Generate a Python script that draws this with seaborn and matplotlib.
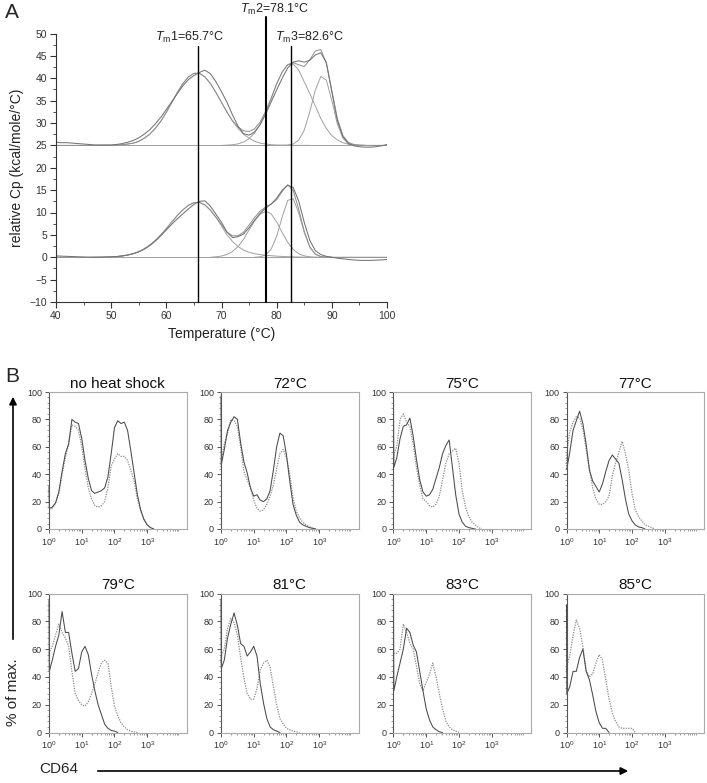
import numpy as np
import pandas as pd
import matplotlib
matplotlib.use("Agg")
import matplotlib.pyplot as plt
import seaborn as sns
from matplotlib.ticker import MultipleLocator, LogLocator, FixedLocator, NullFormatter, FixedFormatter
from matplotlib.patches import FancyArrowPatch

sns.set_style("ticks")
plt.rcParams['font.family'] = ['Liberation Sans', 'DejaVu Sans']
plt.rcParams['mathtext.fontset'] = 'custom'
plt.rcParams['mathtext.rm'] = 'Liberation Sans'
plt.rcParams['mathtext.it'] = 'Liberation Sans:italic'
plt.rcParams['mathtext.bf'] = 'Liberation Sans:bold'

# ---------------- Panel A data (DSC) ----------------
T_GRID = list(range(40, 101))
EXP_UPPER = [25.7, 25.6, 25.6, 25.5, 25.4, 25.3, 25.2, 25.1, 25.1, 25.1, 25.1, 25.2, 25.4, 25.7, 26.1,
             26.7, 27.5, 28.5, 29.8, 31.3, 33.0, 34.8, 36.6, 38.3, 39.7, 40.6, 41.3, 41.8, 41.0, 39.2,
             37.0, 34.6, 31.8, 29.3, 27.6, 27.3, 28.0, 29.6, 32.0, 34.7, 37.4, 40.0, 42.3, 43.6, 43.9,
             43.6, 44.0, 45.2, 45.7, 43.5, 37.0, 30.5, 27.0, 25.4, 24.9, 24.7, 24.6, 24.6, 24.7, 24.9, 25.2]
FIT_UPPER = [25.0, 25.0, 25.0, 25.0, 25.0, 25.0, 25.0, 25.0, 25.0, 25.0, 25.0, 25.05, 25.15, 25.3, 25.5,
             25.9, 26.6, 27.5, 28.8, 30.4, 32.4, 34.6, 36.8, 38.8, 40.3, 41.1, 41.1, 40.3, 38.8, 36.8,
             34.6, 32.45, 30.5, 29.1, 28.25, 28.1, 28.7, 30.2, 32.6, 35.55, 38.8, 41.4, 43.05, 43.5, 43.0,
             42.6, 44.1, 46.1, 46.4, 43.4, 37.2, 31.0, 27.2, 25.65, 25.2, 25.05, 25.0, 25.0, 25.0, 25.0, 25.0]
EXP_LOWER = [0.3, 0.25, 0.2, 0.15, 0.1, 0.05, 0.0, 0.0, 0.0, 0.05, 0.1, 0.15, 0.3, 0.5, 0.8,
             1.2, 1.8, 2.6, 3.6, 4.8, 6.1, 7.4, 8.6, 9.7, 10.8, 11.8, 12.5, 12.6, 11.4, 9.6,
             7.8, 5.6, 4.4, 4.6, 5.2, 6.6, 8.3, 9.8, 11.0, 11.9, 13.2, 15.0, 16.1, 15.6, 12.5,
             7.8, 3.8, 1.5, 0.6, 0.2, 0.0, -0.2, -0.35, -0.5, -0.6, -0.7, -0.7, -0.7, -0.65, -0.6, -0.5]
FIT_LOWER = [0.0, 0.0, 0.0, 0.0, 0.0, 0.0, 0.0, 0.0, 0.03, 0.05, 0.09, 0.16, 0.29, 0.49, 0.8,
             1.25, 1.87, 2.7, 3.75, 5.0, 6.4, 7.9, 9.35, 10.6, 11.6, 12.2, 12.25, 11.7, 10.5, 8.95,
             7.3, 5.6, 4.8, 4.8, 5.6, 7.2, 8.9, 10.3, 11.25, 11.85, 12.85, 14.7, 16.2, 14.9, 10.7,
             5.85, 2.35, 0.73, 0.15, 0.03, 0.0, 0.0, 0.0, 0.0, 0.0, 0.0, 0.0, 0.0, 0.0, 0.0, 0.0]

T_U1 = list(range(48, 87))
COMP_U1 = [25.0, 25.0, 25.0, 25.05, 25.15, 25.3, 25.5, 25.9, 26.6, 27.5, 28.8, 30.4, 32.4, 34.6, 36.8,
           38.8, 40.3, 41.1, 41.1, 40.3, 38.8, 36.8, 34.6, 32.4, 30.4, 28.8, 27.5, 26.6, 25.9, 25.5,
           25.3, 25.15, 25.07, 25.03, 25.0, 25.0, 25.0, 25.0, 25.0]
T_U2 = list(range(70, 97))
COMP_U2 = [25.0, 25.05, 25.14, 25.34, 25.75, 26.5, 27.8, 29.7, 32.3, 35.4, 38.7, 41.4, 43.0, 43.2, 41.8,
           39.2, 36.6, 33.8, 31.0, 28.8, 27.2, 26.2, 25.6, 25.25, 25.1, 25.03, 25.0]
T_U3 = list(range(80, 97))
COMP_U3 = [25.0, 25.02, 25.08, 25.3, 26.2, 28.4, 32.5, 37.3, 40.4, 39.6, 35.0, 29.8, 26.6, 25.4, 25.1,
           25.02, 25.0]
T_L1 = list(range(46, 87))
COMP_L1 = [0.0, 0.01, 0.03, 0.05, 0.09, 0.16, 0.29, 0.49, 0.8, 1.25, 1.87, 2.7, 3.75, 5.0, 6.4,
           7.9, 9.35, 10.6, 11.6, 12.2, 12.25, 11.7, 10.5, 8.9, 7.0, 5.0, 3.5, 2.4, 1.6, 1.1,
           0.8, 0.6, 0.45, 0.35, 0.25, 0.18, 0.12, 0.08, 0.05, 0.03, 0.0]
T_L2 = list(range(68, 89))
COMP_L2 = [0.0, 0.1, 0.27, 0.62, 1.3, 2.4, 4.0, 6.1, 8.1, 9.6, 10.3, 9.7, 7.9, 5.5, 3.35,
           1.75, 0.78, 0.31, 0.1, 0.03, 0.0]
T_L3 = list(range(76, 91))
COMP_L3 = [0.0, 0.1, 0.5, 1.8, 4.7, 9.0, 12.7, 13.1, 9.9, 5.5, 2.25, 0.7, 0.15, 0.03, 0.0]
BASELINES = [0, 25]
TM = [65.7, 78.1, 82.6]

# ---------------- Panel B data (flow cytometry) ----------------
DECADES = [0.0, 0.01, 0.1, 0.2, 0.3, 0.4, 0.5, 0.6, 0.7, 0.8, 0.9, 1.0, 1.1, 1.2, 1.3, 1.4, 1.5, 1.6,
           1.7, 1.8, 1.9, 2.0, 2.1, 2.2, 2.3, 2.4, 2.5, 2.6, 2.7, 2.8, 2.9, 3.0, 3.1, 3.2]
TITLES = ["no heat shock", "72°C", "75°C", "77°C", "79°C", "81°C", "83°C", "85°C"]
SOLID = [
    [31, 15, 16, 19, 27, 42, 55, 62, 80, 78, 77, 66, 50, 37, 28, 26, 27, 28, 30, 38, 55, 74, 79, 77, 78, 72, 57, 41, 25, 14, 7, 3, 1, 0],
    [97, 47, 58, 72, 78, 82, 80, 63, 49, 41, 30, 24, 25, 21, 20, 22, 28, 43, 60, 70, 68, 54, 35, 18, 10, 5, 3, 2, 1, 0.5, 0],
    [94, 45, 52, 66, 75, 76, 81, 68, 51, 36, 27, 24, 25, 29, 37, 45, 55, 61, 65, 45, 25, 11, 5, 2, 1, 0.5, 0],
    [44, 44, 56, 72, 79, 86, 77, 62, 43, 35, 31, 27, 33, 42, 50, 54, 51, 48, 36, 22, 11, 6, 3, 1.5, 1, 0],
    [95, 44, 52, 62, 70, 87, 72, 72, 57, 44, 46, 58, 62, 56, 42, 30, 20, 13, 6, 3, 1.5, 1, 0],
    [96, 46, 52, 68, 78, 86, 77, 64, 62, 55, 58, 62, 55, 35, 21, 10, 4, 2, 1, 0],
    [96, 30, 40, 50, 60, 75, 72, 63, 58, 44, 30, 17, 9, 4, 2, 0.5, 0],
    [92, 28, 33, 44, 44, 54, 60, 44, 38, 27, 15, 7, 3, 3, 0],
]
DOTTED = [
    [14, 14, 15, 19, 26, 40, 52, 63, 76, 75, 72, 60, 44, 30, 22, 17, 16, 17, 20, 30, 46, 51, 55, 53, 53, 50, 43, 35, 22, 13, 7, 3, 1, 0],
    [45, 50, 62, 70, 80, 79, 75, 60, 42, 36, 30, 21, 15, 13, 14, 18, 24, 32, 44, 55, 58, 52, 40, 23, 13, 8, 5, 3, 1.5, 0.5, 0],
    [50, 55, 60, 80, 84, 78, 75, 62, 45, 32, 22, 20, 17, 16, 18, 24, 36, 48, 55, 57, 59, 48, 28, 16, 9, 5, 3, 1, 0],
    [46, 55, 71, 78, 82, 81, 73, 58, 44, 30, 22, 18, 18, 20, 24, 39, 48, 56, 64, 55, 43, 26, 14, 9, 6, 3, 2, 1, 0],
    [55, 58, 62, 70, 78, 72, 68, 62, 44, 28, 23, 20, 19, 22, 28, 35, 43, 50, 52, 50, 33, 19, 12, 7, 4, 2, 1, 0.5, 0],
    [50, 55, 60, 75, 82, 79, 70, 54, 39, 28, 24, 24, 32, 45, 50, 52, 47, 33, 20, 10, 6, 3, 2, 1, 0.5, 0],
    [57, 57, 57, 60, 78, 72, 64, 60, 48, 35, 30, 36, 42, 50, 40, 28, 17, 8, 4, 2, 1, 0],
    [45, 48, 55, 70, 81, 75, 62, 45, 40, 42, 50, 56, 52, 38, 24, 14, 8, 4, 3, 3, 3, 3, 0],
]

# ---------------- Figure ----------------
W, H = 707, 783
fig = plt.figure(figsize=(W / 100, H / 100), dpi=100)


def fx(px):
    return px / W


def fy(py):
    return 1 - py / H


# ---- Panel A ----
axA = fig.add_axes([fx(56), fy(302), fx(387) - fx(56), fy(33.5) - fy(302)])
for yb in BASELINES:
    axA.axhline(yb, color='#a0a0a0', lw=0.7, zorder=1)

comp_sets = [(T_U1, COMP_U1), (T_U2, COMP_U2), (T_U3, COMP_U3),
             (T_L1, COMP_L1), (T_L2, COMP_L2), (T_L3, COMP_L3)]
for tt, vv in comp_sets:
    sns.lineplot(x=tt, y=vv, ax=axA, color='#a0a0a0', lw=0.7, estimator=None, sort=False, legend=False)
for vv in (FIT_UPPER, FIT_LOWER):
    sns.lineplot(x=T_GRID, y=vv, ax=axA, color='#8f8f8f', lw=0.7, estimator=None, sort=False, legend=False)
for vv in (EXP_UPPER, EXP_LOWER):
    sns.lineplot(x=T_GRID, y=vv, ax=axA, color='#747474', lw=0.75, estimator=None, sort=False, legend=False)

axA.set_xlim(40, 100)
axA.set_ylim(-10, 50)
tm_tops = [0.955, 1.06, 0.955]
tm_lw = [1.0, 1.5, 1.0]
for tm, top, lw in zip(TM, tm_tops, tm_lw):
    axA.axvline(tm, ymin=0, ymax=top, color='black', lw=lw, clip_on=False, zorder=5)

lab_pos = [(64.3, 49.1), (79.7, 55.3), (86.0, 49.1)]
for i, (tm, (lx, ly)) in enumerate(zip(TM, lab_pos), start=1):
    axA.text(lx, ly, r"$\mathit{T}_{\mathrm{m}}$" + f"{i}={tm}°C", ha='center', va='center',
             fontsize=9, color='#222222', clip_on=False)

axA.spines['top'].set_visible(False)
axA.spines['right'].set_visible(False)
for s in ('left', 'bottom'):
    axA.spines[s].set_color('#333333')
    axA.spines[s].set_linewidth(0.8)
axA.xaxis.set_major_locator(MultipleLocator(10))
axA.xaxis.set_minor_locator(MultipleLocator(5))
axA.yaxis.set_major_locator(MultipleLocator(5))
axA.yaxis.set_minor_locator(MultipleLocator(2.5))
axA.tick_params(which='major', direction='out', length=4, width=0.8, color='#333333',
                labelsize=7.5, labelcolor='#333333', pad=2.5)
axA.tick_params(which='minor', direction='out', length=2.5, width=0.6, color='#333333')
axA.set_xlabel("Temperature (°C)", fontsize=10, color='#222222', labelpad=4)
axA.set_ylabel("relative Cp (kcal/mole/°C)", fontsize=10, color='#222222', labelpad=4)

# ---- Panel B ----
lefts = [49, 221, 393.5, 566.5]
rows = [(392, 529), (593.5, 732.5)]
pw = 137.5
for k in range(8):
    r, c = divmod(k, 4)
    top, bot = rows[r]
    ax = fig.add_axes([fx(lefts[c]), fy(bot), fx(pw), fy(top) - fy(bot)])
    xs_s = [10 ** d for d in DECADES[:len(SOLID[k])]]
    xs_d = [10 ** d for d in DECADES[:len(DOTTED[k])]]
    sns.lineplot(x=xs_d, y=DOTTED[k], ax=ax, color='#8c8c8c', lw=0.9, linestyle=(0, (1, 1)),
                 estimator=None, sort=False, legend=False, clip_on=False)
    sns.lineplot(x=xs_s, y=SOLID[k], ax=ax, color='#4a4a4a', lw=0.75,
                 estimator=None, sort=False, legend=False, clip_on=False)
    ax.set_xscale('log')
    ax.set_xlim(1, 10 ** 4.2)
    ax.set_ylim(0, 100)
    ax.xaxis.set_major_locator(FixedLocator([1, 10, 100, 1000]))
    ax.xaxis.set_major_formatter(FixedFormatter([r'$10^{0}$', r'$10^{1}$', r'$10^{2}$', r'$10^{3}$']))
    ax.xaxis.set_minor_locator(LogLocator(base=10, subs=(2, 3, 4, 5, 6, 7, 8, 9), numticks=20))
    ax.xaxis.set_minor_formatter(NullFormatter())
    ax.yaxis.set_major_locator(MultipleLocator(20))
    ax.yaxis.set_minor_locator(MultipleLocator(4))
    ax.tick_params(which='major', direction='out', length=3, width=0.7, color='#555555',
                   labelsize=6.5, labelcolor='#333333', pad=2)
    ax.tick_params(which='minor', direction='out', length=1.5, width=0.5, color='#777777')
    for s in ('top', 'right', 'bottom'):
        ax.spines[s].set_color('#aaaaaa')
        ax.spines[s].set_linewidth(0.8)
        ax.spines[s].set_visible(True)
    ax.spines['left'].set_color('#555555')
    ax.spines['left'].set_linewidth(0.8)
    ax.set_xlabel('')
    ax.set_ylabel('')
    ax.set_title(TITLES[k], fontsize=11, color='#111111', pad=3)

# ---- Annotations ----
fig.text(fx(12), fy(13), "A", fontsize=15, ha='center', va='center')
fig.text(fx(12), fy(376.5), "B", fontsize=15, ha='center', va='center')
fig.add_artist(FancyArrowPatch((fx(13), fy(642)), (fx(13), fy(394)), transform=fig.transFigure,
                               arrowstyle='-|>', mutation_scale=11, lw=1.2, color='black'))
fig.text(fx(13), fy(692), "% of max.", rotation=90, fontsize=11, ha='center', va='center')
fig.add_artist(FancyArrowPatch((fx(95), fy(771)), (fx(631), fy(771)), transform=fig.transFigure,
                               arrowstyle='-|>', mutation_scale=11, lw=1.2, color='black'))
fig.text(fx(58.5), fy(769), "CD64", fontsize=11, ha='center', va='center')

fig.savefig("out.png", dpi=100)
